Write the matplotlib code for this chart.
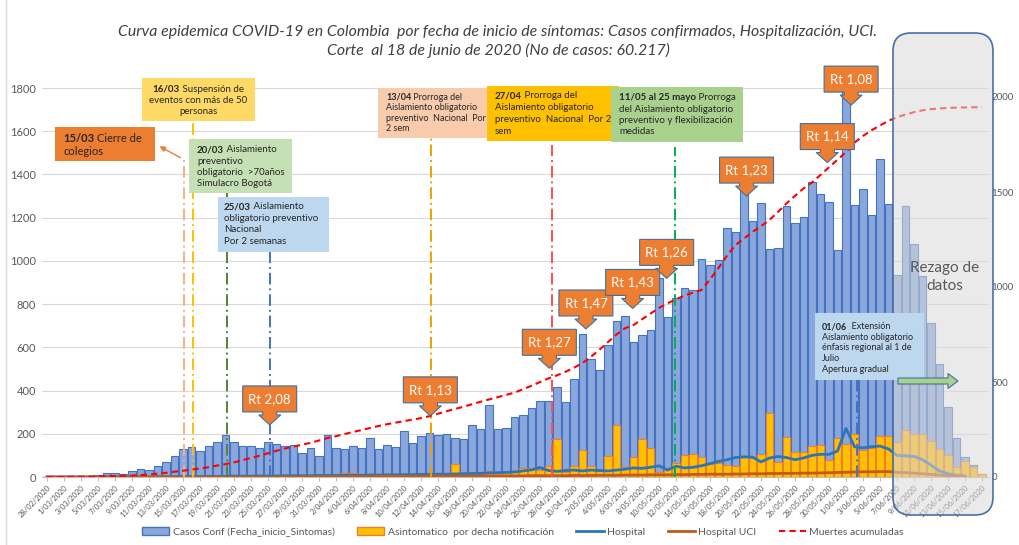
import pandas as pd
import matplotlib
matplotlib.use('Agg')
import matplotlib.pyplot as plt
import matplotlib.patches as mpatches
import matplotlib.transforms as mtransforms
from matplotlib.lines import Line2D

W, H, DPI = 1019, 545, 100

# Fechas de inicio de síntomas (28/02/2020 - 17/06/2020)
fechas = pd.date_range('2020-02-28', '2020-06-17', freq='D')
etiquetas = [f"{d.day}/{d.month:02d}/{d.year}" for d in fechas]

casos = [1, 0, 3, 0, 1, 2, 9, 20, 17, 15,
         26, 37, 32, 49, 71, 97, 131, 137, 122, 142,
         162, 194, 160, 142, 142, 136, 160, 151, 142, 147,
         111, 134, 97, 194, 136, 131, 143, 133, 179, 130,
         147, 137, 214, 159, 190, 205, 194, 200, 180, 174,
         241, 220, 333, 222, 228, 279, 288, 319, 352, 353,
         418, 349, 452, 660, 546, 495, 611, 722, 747, 623,
         657, 680, 922, 742, 830, 876, 865, 1007, 981, 1004,
         1154, 1135, 1335, 1185, 1266, 1055, 1058, 1254, 1174, 1202,
         1364, 1308, 1271, 1050, 1790, 1259, 1333, 1212, 1473, 1262,
         935, 1254, 1078, 930, 714, 523, 325, 182, 94, 56, 12]

asintomaticos = [0, 0, 0, 0, 0, 0, 0, 0, 0, 0,
                 0, 0, 0, 0, 0, 2, 0, 3, 0, 2,
                 3, 0, 5, 2, 3, 8, 4, 6, 3, 10,
                 5, 3, 12, 4, 8, 20, 18, 5, 6, 4,
                 3, 5, 4, 11, 3, 2, 6, 8, 62, 10,
                 22, 15, 29, 20, 25, 25, 40, 43, 32, 51,
                 174, 25, 51, 123, 51, 28, 99, 241, 45, 91,
                 174, 136, 25, 40, 63, 102, 106, 94, 60, 63,
                 56, 51, 99, 86, 106, 295, 68, 187, 115, 118,
                 143, 150, 79, 179, 153, 199, 125, 133, 190, 191,
                 160, 218, 200, 200, 165, 130, 100, 46, 75, 48, 12]

hospital = [0, 0, 0, 0, 0, 0, 0, 0, 0, 0,
            0, 0, 0, 1, 1, 1, 2, 2, 2, 3,
            3, 3, 4, 4, 4, 5, 5, 5, 6, 6,
            6, 6, 7, 7, 7, 8, 8, 8, 9, 9,
            10, 10, 11, 11, 12, 12, 13, 13, 14, 15,
            16, 17, 19, 20, 21, 23, 28, 33, 44, 30,
            26, 30, 32, 28, 32, 30, 28, 32, 36, 42,
            40, 45, 52, 32, 50, 42, 45, 52, 62, 72,
            80, 90, 93, 92, 70, 88, 95, 90, 80, 88,
            100, 105, 105, 120, 225, 140, 135, 140, 143, 130,
            100, 98, 95, 80, 55, 28, 15, 8, 4, None, None]

uci = [0, 0, 0, 0, 0, 0, 0, 0, 0, 0,
       0, 0, 0, 0, 0, 0, 0, 0, 0, 0,
       0, 0, 0, 0, 0, 0, 0, 0, 0, 0,
       1, 1, 1, 1, 2, 2, 2, 2, 2, 3,
       3, 3, 3, 3, 3, 4, 4, 4, 4, 4,
       4, 4, 5, 5, 5, 5, 5, 6, 6, 6,
       6, 6, 7, 7, 7, 8, 8, 8, 9, 9,
       9, 10, 10, 10, 11, 11, 12, 12, 13, 13,
       13, 14, 14, 15, 15, 16, 16, 17, 17, 18,
       18, 19, 20, 21, 22, 23, 24, 24, 25, 25,
       22, 20, 18, 15, 12, 9, 6, 4, 2, None, None]

muertes = [0, 0, 0, 1, 1, 2, 3, 4, 5, 7,
           8, 10, 13, 17, 22, 28, 33, 39, 45, 51,
           60, 68, 77, 89, 100, 112, 125, 138, 150, 160,
           170, 180, 192, 205, 215, 226, 237, 247, 258, 268,
           278, 286, 294, 302, 310, 320, 333, 346, 358, 370,
           383, 396, 408, 420, 432, 444, 462, 480, 500, 519,
           535, 554, 575, 600, 633, 670, 710, 750, 783, 800,
           830, 860, 890, 914, 935, 955, 970, 984, 1040, 1100,
           1165, 1221, 1255, 1290, 1320, 1353, 1395, 1440, 1480, 1519,
           1550, 1590, 1630, 1670, 1710, 1760, 1795, 1825, 1850, 1875,
           1893, 1908, 1920, 1930, 1936, 1940, 1943, 1944, 1945, 1946, 1947]

# Eventos (posición en días desde 28/02, altura de la línea punteada)
evento_x = [16.1, 17.2, 21.2, 26.2, 45.2, 59.4, 73.9, 95.3]
evento_top = [1467, 1647, 1314, 1041, 1569, 1536, 1527, 449]
evento_color = ['#F4B183', '#FFC000', '#548235', '#4472C4',
                '#F59E00', '#FF5050', '#00B050', '#4472C4']

# Rt callouts: (x en días, altura de la punta, texto)
rt_x = [26.2, 45.1, 59.1, 63.4, 68.9, 72.9, 82.3, 91.8, 94.6]
rt_y = [241, 283, 503, 685, 780, 919, 1300, 1455, 1721]
rt_txt = ['Rt 2,08', 'Rt 1,13', 'Rt 1,27', 'Rt 1,47', 'Rt 1,43',
          'Rt 1,26', 'Rt 1,23', 'Rt 1,14', 'Rt 1,08']

plt.rcParams['font.family'] = ['Lato', 'DejaVu Sans']
GRIS = '#595959'


def fig_xy(x, y):
    return x / W, 1 - y / H


def main() -> None:
    fig = plt.figure(figsize=(W / DPI, H / DPI), dpi=DPI)
    XL, XR = -0.6, 110.8
    x0px = 47 + 8.5 * XL
    x1px = 47 + 8.5 * XR
    ax = fig.add_axes([x0px / W, (H - 477) / H, (x1px - x0px) / W, (477 - 79) / H])
    lmax = (477 - 79) / 0.2161
    rmax = (477 - 79) / 0.19

    idx = list(range(len(fechas)))
    ax.bar(idx, casos, width=0.9, color='#8AA7DC', edgecolor='#4472C4', linewidth=0.8, zorder=2)
    ax.bar(idx, asintomaticos, width=0.9, color='#FFC000', edgecolor='#ED7D31', linewidth=0.8, zorder=3)
    hosp = pd.Series(hospital, dtype=float)
    ucis = pd.Series(uci, dtype=float)
    ax.plot(idx, hosp, color='#2E75B6', lw=2, zorder=4)
    ax.plot(idx, ucis, color='#C55A11', lw=2, zorder=4)

    for xe, te, ce in zip(evento_x, evento_top, evento_color):
        ax.plot([xe, xe], [0, te], color=ce, lw=1.4, ls=(0, (6, 2, 1, 2)), zorder=5)

    ax.set_xlim(XL, XR)
    ax.set_ylim(0, lmax)
    ax.set_yticks(range(0, 2000, 200))
    ax.grid(axis='y', color='#D9D9D9', lw=0.8)
    ax.set_axisbelow(True)
    for s in ['top', 'right', 'left']:
        ax.spines[s].set_visible(False)
    ax.spines['bottom'].set_color('#BFBFBF')
    ax.tick_params(axis='y', length=0, labelsize=8, labelcolor=GRIS, pad=4)
    ax.set_xticks(idx[::2])
    ax.set_xticklabels(etiquetas[::2], rotation=45, ha='right', rotation_mode='anchor',
                       fontsize=5.5, color=GRIS)
    ax.tick_params(axis='x', length=3, color='#BFBFBF', pad=2)

    ax2 = ax.twinx()
    ax2.plot(idx, muertes, color='#FF0000', lw=1.5, ls=(0, (3, 2)), zorder=6)
    ax2.set_ylim(0, rmax)
    ax2.set_yticks([0, 500, 1000, 1500, 2000])
    ax2.tick_params(axis='y', length=0, labelsize=7, labelcolor=GRIS, pad=2)
    for s in ax2.spines.values():
        s.set_visible(False)

    renderer = fig.canvas.get_renderer()

    def linea(x, y, partes, size, ha='left', color='#262626', z=4):
        textos = []
        for s, w in partes:
            t = fig.text(0, 0, s, fontsize=size, fontweight=w, color=color,
                         va='center', ha='left', zorder=z)
            textos.append(t)
        anchos = [t.get_window_extent(renderer).width for t in textos]
        xx = x - sum(anchos) / 2 if ha == 'center' else x
        for t, a in zip(textos, anchos):
            t.set_position(fig_xy(xx, y))
            xx += a

    def caja(x0, y0, x1, y1, color, z=3, edge='none'):
        fx0, fy0 = fig_xy(x0, y1)
        fig.add_artist(mpatches.Rectangle((fx0, fy0), (x1 - x0) / W, (y1 - y0) / H,
                                          transform=fig.transFigure, facecolor=color,
                                          edgecolor=edge, lw=0.6, zorder=z))

    def texto_caja(x, y, dy, lineas, size, ha='left', color='#262626', z=4):
        for k, ln in enumerate(lineas):
            linea(x, y + k * dy, ln, size, ha=ha, color=color, z=z)

    # Rezago de datos
    fig.add_artist(mpatches.FancyBboxPatch((893, H - 515), 100, 482,
                                           boxstyle='round,pad=0,rounding_size=18',
                                           transform=mtransforms.IdentityTransform(),
                                           facecolor='#D9D9D9', alpha=0.55, edgecolor='none',
                                           zorder=1))
    fig.add_artist(mpatches.FancyBboxPatch((893, H - 515), 100, 482,
                                           boxstyle='round,pad=0,rounding_size=18',
                                           transform=mtransforms.IdentityTransform(),
                                           facecolor='none', edgecolor='#4A6FA5', lw=1.2,
                                           zorder=1.1))
    fig.text(945 / W, 1 - 277 / H, 'Rezago de\ndatos', ha='center', va='center',
             fontsize=11, color=GRIS, linespacing=1.3, zorder=2)

    # Cajas de eventos
    B, N = 'bold', 'normal'
    caja(55, 127, 155, 161, '#ED7D31')
    texto_caja(63, 138, 13, [[('15/03', B), (' Cierre de', N)], [('colegios', N)]], 8)
    fig.add_artist(mpatches.FancyArrowPatch(fig_xy(183, 159), fig_xy(157, 145),
                                            transform=fig.transFigure, arrowstyle='-|>',
                                            mutation_scale=8, color='#ED7D31', lw=1, zorder=3))

    caja(142, 78, 255, 121, '#FFD966')
    texto_caja(198, 89, 11.5, [[('16/03', B), (' Suspensión de', N)],
                               [('eventos con más de 50', N)], [('personas', N)]], 7, ha='center')

    caja(189, 139, 292, 193, '#C5E0B4')
    texto_caja(197, 150, 11.3, [[('20/03', B), (' Aislamiento', N)], [('preventivo', N)],
                                [('obligatorio  >70años', N)], [('Simulacro Bogotá', N)]], 7)

    caja(218, 197, 329, 252, '#BDD7EE')
    texto_caja(224, 206.5, 11.7, [[('25/03', B), (' Aislamiento', N)],
                                  [('obligatorio preventivo', N)], [('Nacional', N)],
                                  [('Por 2 semanas', N)]], 7)

    caja(378, 88, 487, 138, '#F8CBAD')
    texto_caja(386, 97.5, 10.4, [[('13/04', B), (' Prorroga del', N)],
                                 [('Aislamiento obligatorio', N)],
                                 [('preventivo  Nacional  Por', N)], [('2 sem', N)]], 6.5)

    caja(487, 86, 619, 141, '#FFC000')
    texto_caja(495, 96, 11.8, [[('27/04', B), (' Prorroga del', N)],
                               [('Aislamiento obligatorio', N)],
                               [('preventivo  Nacional  Por 2', N)], [('sem', N)]], 7)

    caja(611, 87, 743, 142, '#A9D18E')
    texto_caja(619, 97.5, 11.5, [[('11/05 al 25 mayo', B), (' Prorroga', N)],
                                 [('del Aislamiento obligatorio', N)],
                                 [('preventivo y flexibilización', N)], [('medidas', N)]], 7)

    caja(815, 313, 924, 380, '#BDD7EE', z=3)
    texto_caja(822, 326.5, 10.7, [[('01/06', B), ('  Extensión', N)],
                                  [('Aislamiento obligatorio', N)],
                                  [('énfasis regional al 1 de', N)], [('Julio', N)],
                                  [('Apertura gradual', N)]], 6.5)
    fig.add_artist(mpatches.FancyArrow(898, H - 381, 50, 0, width=6, head_width=15,
                                       head_length=10, length_includes_head=False,
                                       transform=mtransforms.IdentityTransform(),
                                       facecolor='#A9D18E', edgecolor='#41719C', lw=0.8,
                                       zorder=3))

    # Callouts Rt
    forma = [(0, 0), (11, 10), (7, 10), (7, 13), (27, 13), (27, 39), (-27, 39),
             (-27, 13), (-7, 13), (-7, 10), (-11, 10)]
    for xr, yr, tr in zip(rt_x, rt_y, rt_txt):
        tx, ty = ax.transData.transform((xr, yr))
        fig.add_artist(mpatches.Polygon([(tx + a, ty + b) for a, b in forma], closed=True,
                                        transform=mtransforms.IdentityTransform(),
                                        facecolor='#ED7D31', edgecolor='#41719C', lw=0.8,
                                        zorder=5))
        fig.text(tx / W, (ty + 26) / H, tr, ha='center', va='center', fontsize=9.5,
                 color='white', zorder=6)

    # Título
    fig.text(498 / W, 1 - 41.5 / H,
             'Curva epidemica COVID-19 en Colombia  por fecha de inicio de síntomas: '
             'Casos confirmados, Hospitalización, UCI.\n'
             'Corte  al 18 de junio de 2020 (No de casos: 60.217)',
             ha='center', va='center', fontsize=11.4, style='italic', color='#404040',
             linespacing=1.4)

    # Borde izquierdo
    fig.add_artist(Line2D([6 / W, 6 / W], [0, 1], color='#D9D9D9', lw=1,
                          transform=fig.transFigure))

    handles = [mpatches.Patch(facecolor='#8AA7DC', edgecolor='#4472C4'),
               mpatches.Patch(facecolor='#FFC000', edgecolor='#ED7D31'),
               Line2D([], [], color='#2E75B6', lw=2),
               Line2D([], [], color='#C55A11', lw=2),
               Line2D([], [], color='#FF0000', lw=1.5, ls=(0, (3, 2)))]
    labels = ['Casos Conf (Fecha_inicio_Sintomas)', 'Asintomatico  por decha notificación',
              'Hospital', 'Hospital UCI', 'Muertes acumuladas']
    leg = fig.legend(handles, labels, loc='center', bbox_to_anchor=(523 / W, 1 - 532 / H),
                     ncol=5, frameon=False, fontsize=7.5, handlelength=2.6,
                     handleheight=0.8, columnspacing=2.2, handletextpad=0.3)
    for t in leg.get_texts():
        t.set_color(GRIS)

    fig.savefig('out.png', dpi=DPI)


if __name__ == "__main__":
    main()
